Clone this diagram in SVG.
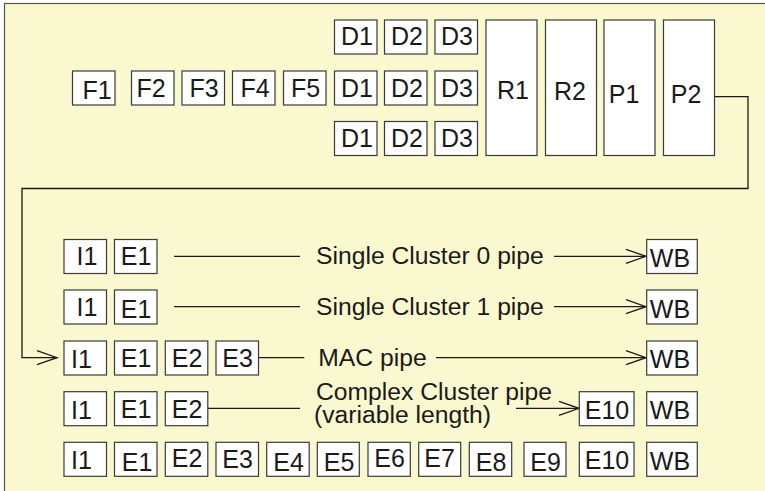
<svg xmlns="http://www.w3.org/2000/svg" width="765" height="491" viewBox="0 0 765 491">
<style>
.bx{fill:#fff;stroke:#3a3a3a;stroke-width:1.2}
.t{font-family:"Liberation Sans",Arial,sans-serif;font-size:25px;fill:#1a1a1a;text-anchor:middle}
.p{font-family:"Liberation Sans",Arial,sans-serif;font-size:24.7px;fill:#1a1a1a}
.ln{fill:none;stroke:#1a1a1a;stroke-width:1.3}
</style>
<defs>
<marker id="ah" markerUnits="userSpaceOnUse" markerWidth="24" markerHeight="18" refX="21" refY="8" orient="auto">
<path d="M1,1 L21,8 L1,15" fill="none" stroke="#1a1a1a" stroke-width="1.3"/>
</marker>
</defs>
<rect x="4.5" y="3.5" width="800" height="520" fill="#FAF8CE" stroke="#555" stroke-width="1.2"/>
<g id="connectors">
<path class="ln" d="M714.7,96.7 H748 V188.5 H22 V357.7 H57" marker-end="url(#ah)"/>
<path class="ln" d="M174,256.3 H300"/>
<path class="ln" d="M554,256.3 H646" marker-end="url(#ah)"/>
<path class="ln" d="M174,306.7 H300"/>
<path class="ln" d="M554,306.7 H646" marker-end="url(#ah)"/>
<path class="ln" d="M258.3,357.7 H304.3"/>
<path class="ln" d="M436,357.7 H646" marker-end="url(#ah)"/>
<path class="ln" d="M207.7,408.3 H300"/>
<path class="ln" d="M516,408.3 H579" marker-end="url(#ah)"/>
</g>
<g id="F1"><rect class="bx" x="72.5" y="71" width="42.5" height="34"/><text class="t" x="97" y="99">F1</text></g>
<g id="F2"><rect class="bx" x="131.5" y="71" width="42.5" height="34"/><text class="t" x="151" y="96.7">F2</text></g>
<g id="F3"><rect class="bx" x="182" y="71" width="42.5" height="34"/><text class="t" x="204" y="96.7">F3</text></g>
<g id="F4"><rect class="bx" x="232.5" y="71" width="42.5" height="34"/><text class="t" x="255" y="96.7">F4</text></g>
<g id="F5"><rect class="bx" x="283.5" y="71" width="42.5" height="34"/><text class="t" x="305.5" y="96.7">F5</text></g>
<g id="D1a"><rect class="bx" x="334.5" y="20" width="42.5" height="34"/><text class="t" x="357" y="45">D1</text></g>
<g id="D2a"><rect class="bx" x="384.5" y="20" width="42.5" height="34"/><text class="t" x="407" y="45">D2</text></g>
<g id="D3a"><rect class="bx" x="435" y="20" width="42.5" height="34"/><text class="t" x="457" y="45">D3</text></g>
<g id="D1b"><rect class="bx" x="334.5" y="71" width="42.5" height="34"/><text class="t" x="357" y="96.7">D1</text></g>
<g id="D2b"><rect class="bx" x="384.5" y="71" width="42.5" height="34"/><text class="t" x="407" y="96.7">D2</text></g>
<g id="D3b"><rect class="bx" x="435" y="71" width="42.5" height="34"/><text class="t" x="457" y="96.7">D3</text></g>
<g id="D1c"><rect class="bx" x="334.5" y="121.5" width="42.5" height="34"/><text class="t" x="357" y="147">D1</text></g>
<g id="D2c"><rect class="bx" x="384.5" y="121.5" width="42.5" height="34"/><text class="t" x="407" y="147">D2</text></g>
<g id="D3c"><rect class="bx" x="435" y="121.5" width="42.5" height="34"/><text class="t" x="457" y="147">D3</text></g>
<g id="R1"><rect class="bx" x="486" y="20" width="51" height="135.5"/><text class="t" x="513" y="99">R1</text></g>
<g id="R2"><rect class="bx" x="545.5" y="20" width="51" height="135.5"/><text class="t" x="570" y="100">R2</text></g>
<g id="P1"><rect class="bx" x="604" y="20" width="51" height="135.5"/><text class="t" x="624" y="103">P1</text></g>
<g id="P2"><rect class="bx" x="663.5" y="20" width="51" height="135.5"/><text class="t" x="686" y="103">P2</text></g>

<g id="row1-I1"><rect class="bx" x="64" y="239.5" width="42.5" height="34"/><text class="t" x="87" y="265">I1</text></g>
<g id="row1-E1"><rect class="bx" x="114.5" y="239.5" width="42.5" height="34"/><text class="t" x="136" y="265">E1</text></g>
<g id="row1-WB"><rect class="bx" x="646.7" y="239.5" width="50.6" height="34"/><text class="t" x="670" y="266.7">WB</text></g>
<text class="p" x="316" y="264">Single Cluster 0 pipe</text>

<g id="row2-I1"><rect class="bx" x="64" y="290" width="42.5" height="34"/><text class="t" x="87" y="316">I1</text></g>
<g id="row2-E1"><rect class="bx" x="114.5" y="290" width="42.5" height="34"/><text class="t" x="136" y="317.7">E1</text></g>
<g id="row2-WB"><rect class="bx" x="646.7" y="290" width="50.6" height="34"/><text class="t" x="670" y="317.5">WB</text></g>
<text class="p" x="316" y="314.5">Single Cluster 1 pipe</text>

<g id="row3-I1"><rect class="bx" x="64" y="341" width="42.5" height="34"/><text class="t" x="81.5" y="368.3">I1</text></g>
<g id="row3-E1"><rect class="bx" x="114.5" y="341" width="42.5" height="34"/><text class="t" x="136" y="366.7">E1</text></g>
<g id="row3-E2"><rect class="bx" x="165.3" y="341" width="42.5" height="34"/><text class="t" x="187" y="366.7">E2</text></g>
<g id="row3-E3"><rect class="bx" x="216" y="341" width="42.5" height="34"/><text class="t" x="237.5" y="366.7">E3</text></g>
<g id="row3-WB"><rect class="bx" x="646.7" y="341" width="50.6" height="34"/><text class="t" x="670" y="368.3">WB</text></g>
<text class="p" x="318.3" y="365.5">MAC pipe</text>

<g id="row4-I1"><rect class="bx" x="64" y="391.7" width="42.5" height="34"/><text class="t" x="81.5" y="419.3">I1</text></g>
<g id="row4-E1"><rect class="bx" x="114.5" y="391.7" width="42.5" height="34"/><text class="t" x="136" y="418.3">E1</text></g>
<g id="row4-E2"><rect class="bx" x="165.3" y="391.7" width="42.5" height="34"/><text class="t" x="187" y="418">E2</text></g>
<g id="row4-E10"><rect class="bx" x="579.3" y="391.7" width="54.7" height="34"/><text class="t" x="607" y="419">E10</text></g>
<g id="row4-WB"><rect class="bx" x="646.7" y="391.7" width="50.6" height="34"/><text class="t" x="670" y="419">WB</text></g>
<text class="p" x="316" y="399.5">Complex Cluster pipe</text>
<text class="p" x="314" y="422.5">(variable length)</text>

<g id="row5-I1"><rect class="bx" x="64" y="442.3" width="42.5" height="34"/><text class="t" x="81.5" y="469.3">I1</text></g>
<g id="row5-E1"><rect class="bx" x="114.5" y="442.3" width="42.5" height="34"/><text class="t" x="137" y="470.7">E1</text></g>
<g id="row5-E2"><rect class="bx" x="165.3" y="442.3" width="42.5" height="34"/><text class="t" x="187" y="466.7">E2</text></g>
<g id="row5-E3"><rect class="bx" x="216" y="442.3" width="42.5" height="34"/><text class="t" x="237.5" y="468">E3</text></g>
<g id="row5-E4"><rect class="bx" x="266.7" y="442.3" width="42.5" height="34"/><text class="t" x="288.5" y="470.7">E4</text></g>
<g id="row5-E5"><rect class="bx" x="317.3" y="442.3" width="42" height="34"/><text class="t" x="339" y="470.7">E5</text></g>
<g id="row5-E6"><rect class="bx" x="368" y="442.3" width="42.3" height="34"/><text class="t" x="389.5" y="466.7">E6</text></g>
<g id="row5-E7"><rect class="bx" x="418.7" y="442.3" width="42" height="34"/><text class="t" x="439.5" y="466.7">E7</text></g>
<g id="row5-E8"><rect class="bx" x="469.3" y="442.3" width="42.4" height="34"/><text class="t" x="491" y="470.7">E8</text></g>
<g id="row5-E9"><rect class="bx" x="524" y="442.3" width="42" height="34"/><text class="t" x="545.5" y="470.7">E9</text></g>
<g id="row5-E10"><rect class="bx" x="579.3" y="442.3" width="54.7" height="34"/><text class="t" x="607" y="469.3">E10</text></g>
<g id="row5-WB"><rect class="bx" x="646.7" y="442.3" width="50.6" height="34"/><text class="t" x="670" y="470">WB</text></g>
</svg>
